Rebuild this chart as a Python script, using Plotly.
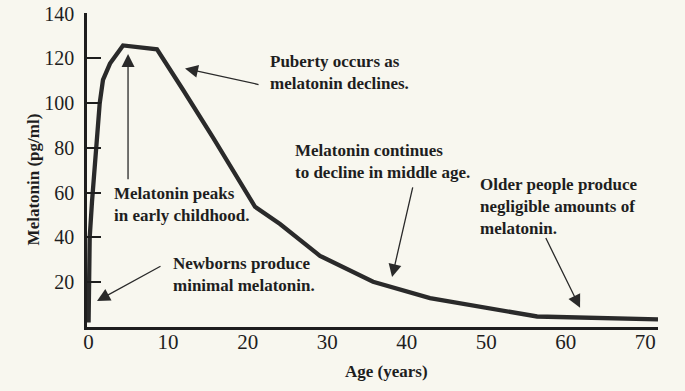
import plotly.graph_objects as go

# Data
age = [0, 0.05, 0.14, 0.43, 0.97, 1.40, 1.81, 2.69, 4.33, 8.6, 11.87, 15.65,
       20.93, 24.07, 29.1, 35.77, 42.93, 50, 56.4, 71.6]
melatonin = [2, 20, 40, 56, 80, 100, 110.4, 117.7, 125.8, 124.1, 106, 84.6,
             53.7, 46, 31.8, 20.2, 12.9, 8.5, 4.7, 3.4]

x_ticks = [0, 10, 20, 30, 40, 50, 60, 70]
y_ticks = [20, 40, 60, 80, 100, 120, 140]

notes = [
    "Puberty occurs as<br>melatonin declines.",
    "Melatonin continues<br>to decline in middle age.",
    "Older people produce<br>negligible amounts of<br>melatonin.",
    "Melatonin peaks<br>in early childhood.",
    "Newborns produce<br>minimal melatonin.",
]
note_x = [22.56, 25.71, 48.97, 2.94, 10.36]
note_y = [113.6, 73.9, 53.9, 54.8, 23.6]

# arrows: head (x, y), tail (x, y)
arrow_head_x = [12.12, 4.96, 38.16, 61.80, 1.06]
arrow_head_y = [115.5, 122.0, 22.3, 8.6, 11.6]
arrow_tail_x = [21.56, 4.96, 40.8, 57.4, 9.23]
arrow_tail_y = [108.2, 65.3, 63.1, 40.4, 27.5]

INK = "#1e1e1e"
BG = "#f8f7ef"
FONT = "Liberation Serif"

fig = go.Figure()
fig.add_trace(go.Scatter(x=age, y=melatonin, mode="lines",
                         line=dict(color="#2a2a2a", width=4.3),
                         hoverinfo="skip", showlegend=False))

annotations = []
for t, x, y in zip(notes, note_x, note_y):
    annotations.append(dict(x=x, y=y, xref="x", yref="y", text="<b>" + t + "</b>",
                            showarrow=False, xanchor="left", yanchor="middle",
                            align="left", font=dict(family=FONT, size=17, color=INK)))
for hx, hy, tx, ty in zip(arrow_head_x, arrow_head_y, arrow_tail_x, arrow_tail_y):
    annotations.append(dict(x=hx, y=hy, xref="x", yref="y", ax=tx, ay=ty,
                            axref="x", ayref="y", text="", showarrow=True,
                            arrowhead=2, arrowsize=2.0, arrowwidth=1.3,
                            arrowcolor="#2a2a2a", standoff=0, startstandoff=0))

annotations.append(dict(x=-0.0946, y=0.47, xref="paper", yref="paper",
                        text="<b>Melatonin (pg/ml)</b>", textangle=-90, showarrow=False,
                        xanchor="center", yanchor="middle",
                        font=dict(family=FONT, size=17, color=INK)))
annotations.append(dict(x=0.525, y=-0.143, xref="paper", yref="paper",
                        text="<b>Age (years)</b>", showarrow=False,
                        xanchor="center", yanchor="middle",
                        font=dict(family=FONT, size=17, color=INK)))

fig.update_layout(
    width=685, height=391,
    margin=dict(l=87, r=27, t=13, b=64, autoexpand=False),
    paper_bgcolor=BG, plot_bgcolor=BG,
    annotations=annotations,
    xaxis=dict(range=[-0.2, 71.6], tickvals=x_ticks, ticks="", showgrid=False,
               zeroline=False, showline=True, linecolor=INK, linewidth=2.5,
               automargin=False, ticklabeloverflow="allow", ticklabelstandoff=-6,
               tickfont=dict(family=FONT, size=21, color=INK)),
    yaxis=dict(range=[0, 140.3], tickvals=y_ticks, ticks="inside", ticklen=14,
               tickwidth=2, tickcolor=INK, showgrid=False, zeroline=False,
               showline=True, linecolor=INK, linewidth=2.5, ticklabelstandoff=6,
               automargin=False, ticklabeloverflow="allow",
               tickfont=dict(family=FONT, size=20, color=INK)),
)

fig.write_html("out.html", config={"displayModeBar": False},
               post_script="document.body.style.margin='0';document.body.style.background='%s';" % BG)
